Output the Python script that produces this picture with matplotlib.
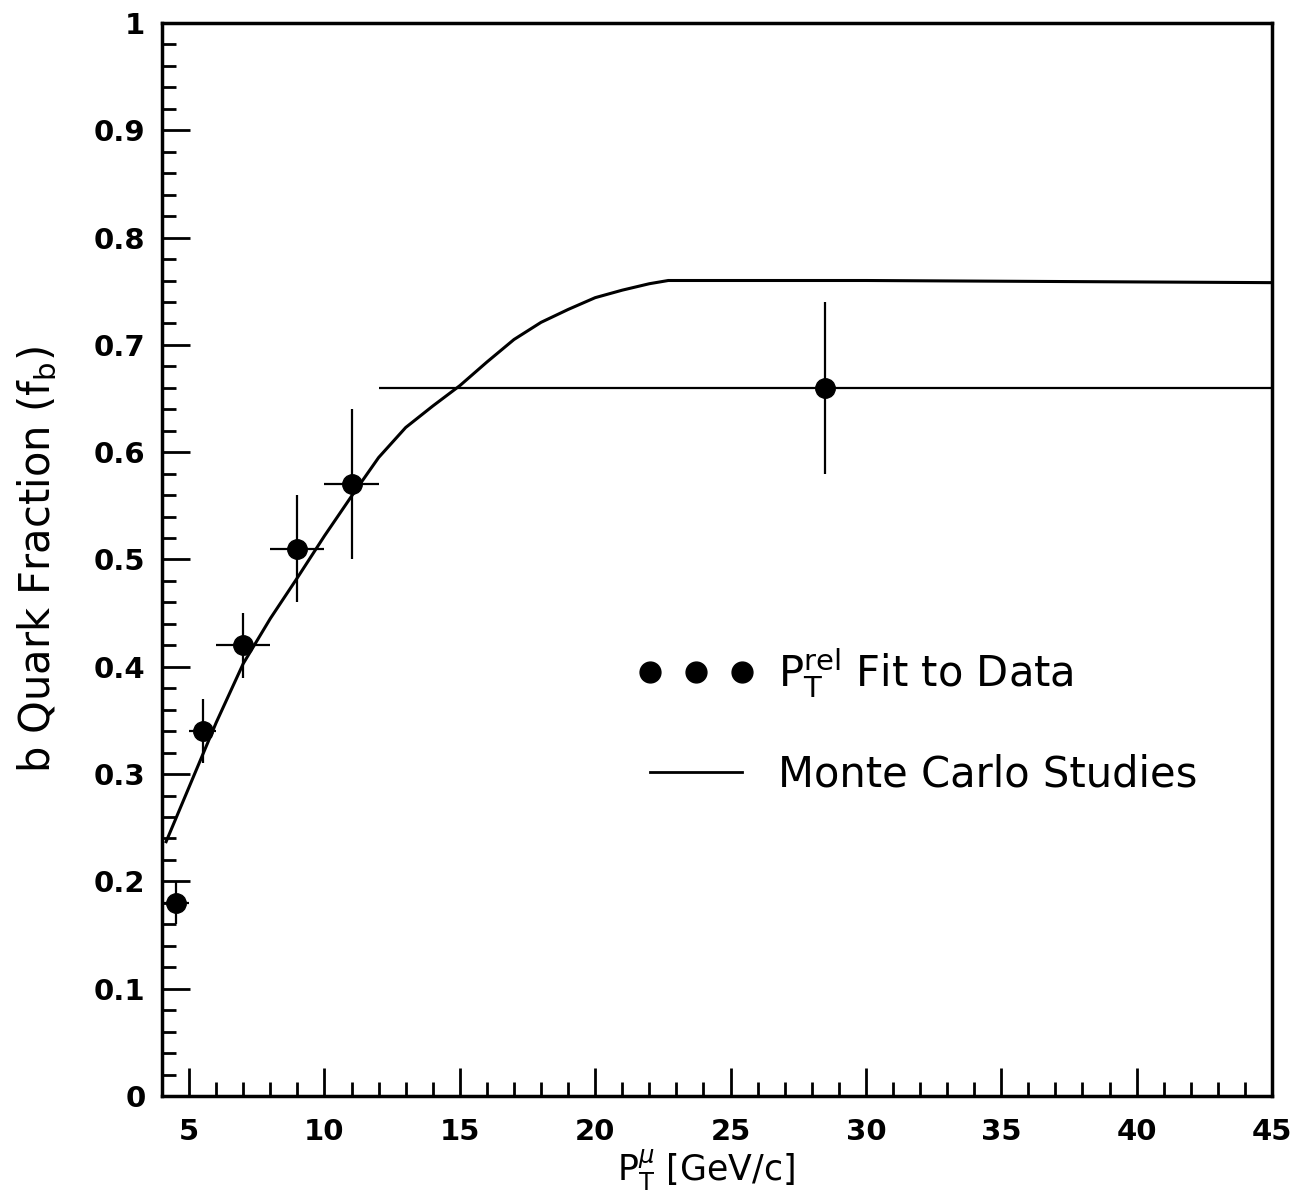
import matplotlib
matplotlib.use("Agg")
import matplotlib.pyplot as plt
from matplotlib.lines import Line2D
from matplotlib.ticker import MultipleLocator, FixedLocator
import numpy as np

# Data: P_T^rel fit to data
pt = [4.5, 5.5, 7.0, 9.0, 11.0, 28.5]
pt_lo = [4.0, 5.0, 6.0, 8.0, 10.0, 12.0]
pt_hi = [5.0, 6.0, 8.0, 10.0, 12.0, 45.0]
fb = [0.18, 0.34, 0.42, 0.51, 0.57, 0.66]
fb_err = [0.02, 0.03, 0.03, 0.05, 0.07, 0.08]

# Monte Carlo curve
mc_x = [4.15, 5, 6, 7, 8, 9, 10, 11, 12, 13, 14, 15, 16, 17, 18, 19, 20, 21, 22, 22.7, 30, 45]
mc_y = [0.237, 0.288, 0.348, 0.403, 0.445, 0.483, 0.522, 0.559, 0.595, 0.623, 0.643, 0.662,
        0.684, 0.705, 0.721, 0.733, 0.744, 0.751, 0.757, 0.760, 0.760, 0.758]

xticks = [5, 10, 15, 20, 25, 30, 35, 40, 45]
yticks = [0, 0.1, 0.2, 0.3, 0.4, 0.5, 0.6, 0.7, 0.8, 0.9, 1]
ytick_labels = ["0", "0.1", "0.2", "0.3", "0.4", "0.5", "0.6", "0.7", "0.8", "0.9", "1"]

plt.rcParams['font.family'] = ['DejaVu Sans']
plt.rcParams['mathtext.fontset'] = 'dejavusans'

fig = plt.figure(figsize=(13.09, 11.97), dpi=100)
ax = fig.add_axes([0.1238, 0.0844, 0.9717 - 0.1238, 0.9808 - 0.0844])

x = np.array(pt)
xerr = np.array([x - np.array(pt_lo), np.array(pt_hi) - x])
ax.errorbar(x, fb, xerr=xerr, yerr=fb_err, fmt='o', color='black', markersize=14,
            elinewidth=1.6, capsize=0, zorder=3)
ax.plot(mc_x, mc_y, color='black', lw=2.2, zorder=2)

ax.set_xlim(4, 45)
ax.set_ylim(0, 1)
ax.xaxis.set_major_locator(FixedLocator(xticks))
ax.xaxis.set_minor_locator(MultipleLocator(1))
ax.yaxis.set_major_locator(FixedLocator(yticks))
ax.set_yticklabels(ytick_labels)
ax.yaxis.set_minor_locator(MultipleLocator(0.02))

ax.tick_params(which='both', direction='in', top=False, right=False, width=2, color='black')
ax.tick_params(which='major', length=20, labelsize=21)
ax.tick_params(axis='y', which='major', pad=12)
ax.tick_params(axis='x', which='major', pad=16)
ax.tick_params(which='minor', length=10)
for lab in ax.get_xticklabels() + ax.get_yticklabels():
    lab.set_fontweight('bold')
for sp in ax.spines.values():
    sp.set_linewidth(2.5)

ax.set_xlabel(r'P$_{\rm T}^{\mu}$ [GeV/c]', fontsize=25, va='center')
ax.xaxis.set_label_coords(0.49, -0.069)
ax.set_ylabel(r'b Quark Fraction (f$_{\rm b}$)', fontsize=30, va='center')
ax.yaxis.set_label_coords(-0.112, 0.5)

h1 = Line2D([], [], ls='none', marker='o', color='black', markersize=15)
h2 = Line2D([], [], ls='-', color='black', lw=2)
ax.legend([h1, h2], [r'P$_{\rm T}^{\rm rel}$ Fit to Data', 'Monte Carlo Studies'],
          numpoints=3, frameon=False, fontsize=30, handlelength=2.8, handletextpad=0.55,
          labelspacing=1.3, loc='center left', bbox_to_anchor=(0.395, 0.35))

fig.savefig('out.png', dpi=100)
